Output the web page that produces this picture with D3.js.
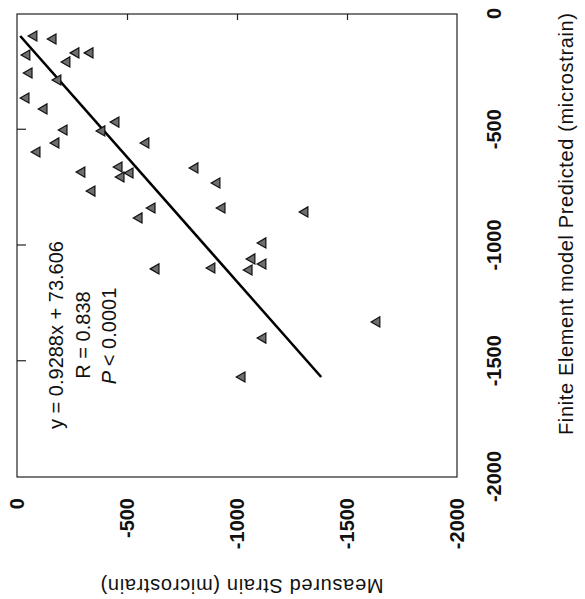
<!DOCTYPE html>
<html>
<head>
<meta charset="utf-8">
<script src="https://cdn.jsdelivr.net/npm/d3@7"></script>
<style>
  body { margin: 0; background: #fff; }
  text { font-family: "Liberation Sans", Arial, sans-serif; fill: #111; }
</style>
</head>
<body>
<div id="vis"></div>
<script>
// FE predicted (x) vs measured strain (y), microstrain
const predicted = [-95, -108, -177, -168, -168, -207, -255, -285, -363, -410, -467, -501,
  -505, -557, -557, -596, -683, -661, -704, -687, -765, -881, -838, -665, -730, -838,
  -989, -1058, -1080, -1106, -1097, -1101, -1400, -1568, -855, -1330];
const measured = [-77, -164, -45, -268, -332, -227, -55, -186, -41, -123, -450, -214,
  -386, -177, -586, -91, -295, -464, -473, -514, -341, -555, -614, -809, -909, -932,
  -1118, -1068, -1118, -1055, -886, -632, -1118, -1023, -1309, -1636];

const tickValues = [-2000, -1500, -1000, -500, 0];
const slope = 0.9288, intercept = 73.606;
const statLines = ["y = 0.9288x + 73.606", "R = 0.838", "< 0.0001"];

const W = 585, H = 599;

var svg = d3.select('#vis').append('svg')
  .attr("width", W)
  .attr("height", H);

// the scanned figure is turned on its side: draw upright, rotate whole thing
var g = svg.append("g")
  .attr("transform", "translate(0," + H + ") rotate(-90)");

var x = d3.scaleLinear().domain([-2000, 0]).range([122, 585]);
var y = d3.scaleLinear().domain([-2000, 0]).range([457, 17]);

var fmt = d => String(d);

// axes with labels, no tick marks
g.append("g")
  .attr("transform", "translate(0,457)")
  .call(d3.axisBottom(x).tickValues(tickValues).tickSize(0).tickPadding(30).tickFormat(fmt))
  .call(a => a.select(".domain").remove());

g.append("g")
  .attr("transform", "translate(122,0)")
  .call(d3.axisLeft(y).tickValues(tickValues).tickSize(0).tickPadding(21).tickFormat(fmt))
  .call(a => a.select(".domain").remove());

g.selectAll(".tick text")
  .style("font-family", '"Liberation Sans", Arial, sans-serif')
  .style("font-size", "20px")
  .style("font-weight", "bold")
  .attr("fill", "#111");

// inward tick marks on top and right of frame
g.append("g")
  .attr("transform", "translate(0,17)")
  .call(d3.axisTop(x).tickValues(tickValues.slice(1, 4)).tickSize(-9).tickFormat(""))
  .call(a => a.select(".domain").remove());

g.append("g")
  .attr("transform", "translate(585,0)")
  .call(d3.axisRight(y).tickValues(tickValues.slice(1, 4)).tickSize(-6).tickFormat(""))
  .call(a => a.select(".domain").remove());

g.selectAll(".tick line").attr("stroke", "#222").attr("stroke-width", 1.2);

g.append("rect")
  .attr("x", 122).attr("y", 17)
  .attr("width", 463).attr("height", 440)
  .attr("fill", "none")
  .attr("stroke", "#222")
  .attr("stroke-width", 1.2);

// axis titles
g.append("text")
  .attr("x", 375).attr("y", 573)
  .attr("text-anchor", "middle")
  .attr("textLength", 422)
  .style("font-size", "20px")
  .text("Finite Element model Predicted (microstrain)");

g.append("text")
  .attr("transform", "translate(20,242) rotate(-90)")
  .attr("text-anchor", "middle")
  .attr("textLength", 283)
  .style("font-size", "20px")
  .text("Measured Strain (microstrain)");

// regression line over the range of predicted values
var xr = d3.extent(predicted);
g.append("path")
  .datum(xr.map(v => [v, slope * v + intercept]))
  .attr("fill", "none")
  .attr("stroke", "#000")
  .attr("stroke-width", 2.6)
  .attr("d", d3.line().x(d => x(d[0])).y(d => y(d[1])));

// points
var tri = d3.symbol().type(d3.symbolTriangle).size(44);
g.selectAll("path.pt")
  .data(predicted.map((p, i) => ({ p: p, m: measured[i] })))
  .enter()
  .append("path")
  .attr("class", "pt")
  .attr("transform", d => "translate(" + x(d.p) + "," + y(d.m) + ")")
  .attr("d", tri)
  .attr("fill", "#6e6e6e")
  .attr("stroke", "#111")
  .attr("stroke-width", 1.2);

// stats
var st = g.append("g").style("font-size", "20px");
st.append("text").attr("x", 264).attr("y", 63).attr("text-anchor", "middle").text(statLines[0]);
st.append("text").attr("x", 264).attr("y", 90).attr("text-anchor", "middle").text(statLines[1]);
var pt = st.append("text").attr("x", 263).attr("y", 116).attr("text-anchor", "middle");
pt.append("tspan").style("font-style", "italic").text("P ");
pt.append("tspan").text(statLines[2]);
</script>
</body>
</html>
